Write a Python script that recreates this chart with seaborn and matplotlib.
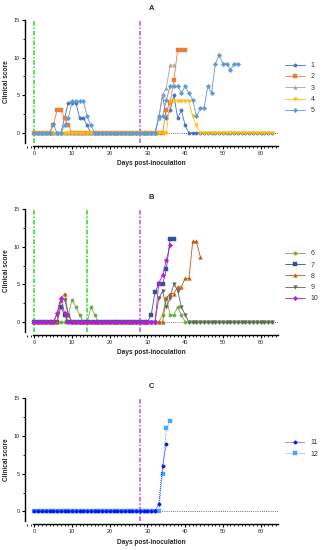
import pandas as pd
import matplotlib.pyplot as plt
from matplotlib.colors import to_hex
from matplotlib.ticker import MultipleLocator
import seaborn as sns

# clinical score per mouse, one value per day starting at day 0
# panel A
m1 = [0, 0, 0, 0, 0, 0, 0, 0, 2, 4, 4, 4, 2, 2, 1, 0,
      0, 0, 0, 0, 0, 0, 0, 0, 0, 0, 0, 0, 0, 0, 0, 0,
      0, 2, 5, 2, 3, 5, 2, 3, 1, 0, 0, 0, 0, 0, 0, 0,
      0, 0, 0, 0, 0, 0, 0, 0, 0, 0, 0, 0, 0, 0, 0, 0]
m2 = [0, 0, 0, 0, 0, 1, 3, 3, 2, 1, 0, 0, 0, 0, 0, 0,
      0, 0, 0, 0, 0, 0, 0, 0, 0, 0, 0, 0, 0, 0, 0, 0,
      0, 0, 0, 3, 4, 7, 11, 11, 11]
m3 = [0, 0, 0, 0, 0, 0, 0, 0, 0, 0, 0, 0, 0, 0, 0, 0,
      0, 0, 0, 0, 0, 0, 0, 0, 0, 0, 0, 0, 0, 0, 0, 0,
      0, 2, 5, 6, 9, 9]
m4 = [0, 0, 0, 0, 0, 0, 0, 0, 0, 0, 0, 0, 0, 0, 0, 0,
      0, 0, 0, 0, 0, 0, 0, 0, 0, 0, 0, 0, 0, 0, 0, 0,
      0, 0, 0, 0, 4.2, 4.2, 4.2, 4.2, 4.2, 4.2, 2.2, 1, 0, 0, 0, 0,
      0, 0, 0, 0, 0, 0, 0, 0, 0, 0, 0, 0, 0, 0, 0, 0]
m5 = [0, 0, 0, 0, 0, 1.2, 0, 0, 1, 2, 4.2, 4.2, 4.2, 4.2, 2.2, 1,
      0, 0, 0, 0, 0, 0, 0, 0, 0, 0, 0, 0, 0, 0, 0, 0,
      0, 2.2, 2.2, 4.4, 6.2, 6.2, 6.2, 5.3, 6.2, 5.3, 4.4, 2.2, 3.3, 3.3, 6.2, 5.3,
      9.2, 10.3, 9.2, 9.2, 8.3, 9.2, 9.2]
# panel B
m6 = [0, 0, 0, 0, 0, 0, 0, 0, 0, 1, 3, 2, 1, 0, 0, 2,
      1, 0, 0, 0, 0, 0, 0, 0, 0, 0, 0, 0, 0, 0, 0, 0,
      0, 0, 1, 3.2, 1, 1, 2, 1, 0, 0, 0, 0, 0, 0, 0, 0,
      0, 0, 0, 0, 0, 0, 0, 0, 0, 0, 0, 0, 0, 0, 0, 0]
m7 = [0, 0, 0, 0, 0, 0, 0, 2, 1, 0, 0, 0, 0, 0, 0, 0,
      0, 0, 0, 0, 0, 0, 0, 0, 0, 0, 0, 0, 0, 0, 0, 1,
      4, 5, 5, 7, 11, 11]
m8 = [0, 0, 0, 0, 0, 0, 0, 3, 3.8, 1, 0, 0, 0, 0, 0, 0,
      0, 0, 0, 0, 0, 0, 0, 0, 0, 0, 0, 0, 0, 0, 0, 0,
      0, 0, 0, 3.2, 3.8, 3.8, 4.7, 4.7, 5.8, 5.8, 10.7, 10.7, 8.7]
m9 = [0, 0, 0, 0, 0, 0, 1, 3, 3, 1, 0, 0, 0, 0, 0, 0,
      0, 0, 0, 0, 0, 0, 0, 0, 0, 0, 0, 0, 0, 0, 0, 0,
      0, 3.2, 4.1, 2, 3.2, 5.1, 4.2, 2, 1, 0, 0, 0, 0, 0, 0, 0,
      0, 0, 0, 0, 0, 0, 0, 0, 0, 0, 0, 0, 0, 0, 0, 0]
m10 = [0, 0, 0, 0, 0, 0, 1.2, 3.2, 1.2, 0, 0, 0, 0, 0, 0, 0,
       0, 0, 0, 0, 0, 0, 0, 0, 0, 0, 0, 0, 0, 0, 0, 0,
       0, 5.2, 6.2, 8.2, 10.2]
# panel C
m11 = [0, 0, 0, 0, 0, 0, 0, 0, 0, 0, 0, 0, 0, 0, 0, 0,
       0, 0, 0, 0, 0, 0, 0, 0, 0, 0, 0, 0, 0, 0, 0, 0,
       0, 1, 6, 9]
m12 = [0, 0, 0, 0, 0, 0, 0, 0, 0, 0, 0, 0, 0, 0, 0, 0,
       0, 0, 0, 0, 0, 0, 0, 0, 0, 0, 0, 0, 0, 0, 0, 0,
       0, 0, 5, 11, 12]

green_days_a = [0]
green_days_b = [0, 14]
green_days_c = []
magenta_day = 28


def long_table(series):
    rows = []
    for name, vals in series.items():
        for day, v in enumerate(vals):
            rows.append((day, v, name))
    return pd.DataFrame(rows, columns=['day', 'score', 'mouse'])


panels = [
    ('A', {'1': m1, '2': m2, '3': m3, '4': m4, '5': m5},
     ['#4472c4', '#ed7d31', '#a5a5a5', '#ffc000', '#5b9bd5'],
     ['o', 's', '^', 'v', 'D'], False, green_days_a, 0.735, 0.887),
    ('B', {'6': m6, '7': m7, '8': m8, '9': m9, '10': m10},
     ['#70ad47', '#2f5597', '#c55a11', '#636363', '#b818e8'],
     ['o', 's', '^', 'v', 'D'], False, green_days_b, 0.391, 0.545),
    ('C', {'11': m11, '12': m12},
     ['#0a14f0', '#4aa3ff'],
     ['o', 's'], True, green_days_c, 0.047, 0.201),
]

sns.set_theme(style='ticks')
plt.rcParams['font.family'] = ['Liberation Sans', 'DejaVu Sans']

fig = plt.figure(figsize=(3.29, 5.5), dpi=100)
msize = {'o': 2.4, 's': 2.8, '^': 2.6, 'v': 2.6, 'D': 2.3}

for title, series, colors, markers, dotted, greens, bottom, leg_top in panels:
    ax = fig.add_axes([0.076, bottom, 0.7675, 0.233])
    df = long_table(series)
    names = list(series.keys())
    pal = dict(zip(names, colors))
    dashes = [(1.2, 1.2)] * len(names) if dotted else False

    ax.hlines(0, 0, 64.5, colors='#444444', linestyles=(0, (1, 1.6)), lw=0.6, zorder=0.5)
    for d in greens:
        ax.vlines(d, -1.3, 15, colors='#1EDC1E', linestyles=(0, (3, 1.2, 1, 1.2)), lw=1.1, zorder=1)
    ax.vlines(magenta_day, -1.3, 15, colors='#CC44EE', linestyles=(0, (3, 1.2, 1, 1.2)), lw=1.1, zorder=1)

    sns.lineplot(data=df, x='day', y='score', hue='mouse', style='mouse',
                 hue_order=names, style_order=names, palette=pal,
                 markers=markers, dashes=dashes, estimator=None,
                 lw=0.6, ax=ax)

    handles, labels = ax.get_legend_handles_labels()
    ax.get_legend().remove()

    # small markers, sized per shape (matched through colour), no pixel snapping
    for line in list(ax.lines) + list(handles):
        k = colors.index(to_hex(line.get_color()))
        line.set_markersize(msize[markers[k]])
        line.set_markeredgewidth(0.3)
        line.set_markeredgecolor(colors[k])
        line.set_markerfacecolor(colors[k])
        line.set_linewidth(0.6)
        line.set_snap(False)
        if dotted:
            line.set_zorder(3 + len(colors) - k)

    ax.legend(handles, labels, loc='upper left', bbox_to_anchor=(0.866, leg_top),
              bbox_transform=fig.transFigure, frameon=False, fontsize=5,
              handlelength=2.9, handletextpad=0.8, labelspacing=0.62,
              borderpad=0, borderaxespad=0, labelcolor='#333333')

    ax.set_xlim(-2.5, 64.5)
    ax.set_ylim(-1.69, 15.3)
    ax.spines['top'].set_visible(False)
    ax.spines['right'].set_visible(False)
    ax.spines['left'].set_bounds(-1.3, 15)
    ax.spines['bottom'].set_bounds(-0.3, 64.5)
    for s in ('left', 'bottom'):
        ax.spines[s].set_linewidth(1.0)
        ax.spines[s].set_color('black')

    ax.xaxis.set_major_locator(MultipleLocator(10))
    ax.xaxis.set_minor_locator(MultipleLocator(1))
    ax.yaxis.set_major_locator(MultipleLocator(5))
    ax.yaxis.set_minor_locator(MultipleLocator(2.5))
    ax.tick_params(which='major', length=2.3, width=0.8, labelsize=4, pad=1.5, color='black')
    ax.tick_params(which='minor', length=1.4, width=0.6, color='black')

    ax.set_title(title, fontsize=5.5, fontweight='bold', pad=5.5)
    ax.set_xlabel('Days post-inoculation', fontsize=4.7, fontweight='bold', labelpad=3)
    ax.set_ylabel('Clinical score', fontsize=4.7, fontweight='bold', labelpad=2.5)

fig.savefig('out.png', dpi=100)
